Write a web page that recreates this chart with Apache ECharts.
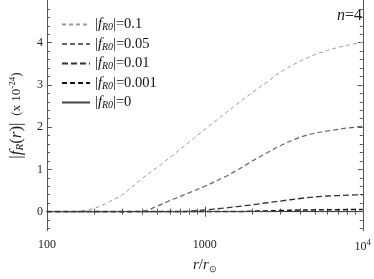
<!DOCTYPE html>
<html><head><meta charset="utf-8">
<script src="https://cdn.jsdelivr.net/npm/echarts@6/dist/echarts.min.js"></script>
<style>html,body{margin:0;padding:0;background:#fff}#c{width:374px;height:279px}</style>
</head><body><div id="c"></div>
<script>
const radius = [100,130,160,200,250,300,400,500,600,700,800,1000,1300,1600,2000,2500,3000,4000,5000,6000,7000,8000,10000];
const f_01   = [0,0,0.01,0.08,0.24,0.40,0.78,1.05,1.28,1.48,1.65,1.95,2.28,2.55,2.82,3.08,3.30,3.56,3.72,3.82,3.89,3.94,4.01];
const f_005  = [0,0,0,0,0,0,0.01,0.13,0.26,0.36,0.45,0.60,0.80,0.98,1.20,1.40,1.56,1.76,1.86,1.91,1.95,1.98,2.02];
const f_001  = [0,0,0,0,0,0,0,0,0,0,0.01,0.04,0.08,0.12,0.16,0.21,0.25,0.31,0.35,0.37,0.38,0.39,0.40];
const f_0001 = [0,0,0,0,0,0,0,0,0,0,0,0,0,0,0.01,0.017,0.025,0.035,0.04,0.043,0.045,0.047,0.05];
const f_0    = [0,0,0,0,0,0,0,0,0,0,0,0,0,0,0,0,0,0,0,0,0,0,0];
const seriesNames = ['0.1','0.05','0.01','0.001','0'];
const seriesValues = [f_01, f_005, f_001, f_0001, f_0];
const yMajor = [0,1,2,3,4];
const yMinor = [-0.4,-0.2,0.2,0.4,0.6,0.8,1.2,1.4,1.6,1.8,2.2,2.4,2.6,2.8,3.2,3.4,3.6,3.8,4.2,4.4,4.6,4.8];
const xMajor = [100,1000,10000];
const xMinor = [200,300,400,500,600,700,800,900,2000,3000,4000,5000,6000,7000,8000,9000];

const styles = [
  {color:'#9a9a9a', width:1, type:[4,3]},
  {color:'#666', width:1.2, type:[5,3]},
  {color:'#333', width:1.3, type:[6,3]},
  {color:'#111', width:1.5, type:[5,3]},
  {color:'#444', width:1, type:'solid'}
];
const serif = 'Liberation Serif';
const axisColor = '#555';

function xAx(pos, values, len, line, showLabel){
  return {
    type:'log', logBase:10, min:100, max:10000, position:pos,
    axisLine:{show:line, lineStyle:{color:axisColor, width:1}},
    axisTick:{show:true, inside:true, length:len, customValues:values, lineStyle:{color:axisColor}},
    minorTick:{show:false},
    axisLabel:{show:showLabel, customValues:values, fontFamily:serif, fontSize:12, color:'#222', margin:8,
      formatter: v => v >= 9999 ? '{n|10}{sup|4}' : '{n|' + Math.round(v) + '}',
      rich:{n:{fontFamily:serif,fontSize:12,color:'#222'}, sup:{fontFamily:serif,fontSize:9,color:'#222',padding:[0,0,8,0]}}},
    splitLine:{show:false},
    name: showLabel ? '{i|r}{t|/}{i|r}{s|⊙}' : '', nameLocation:'middle', nameGap:20,
    nameTextStyle:{rich:{
      i:{fontFamily:serif,fontStyle:'italic',fontSize:15,color:'#222'},
      t:{fontFamily:serif,fontSize:15,color:'#222'},
      s:{fontFamily:serif,fontSize:9,color:'#222',padding:[8,0,0,0]}}}
  };
}
function yAx(pos, values, len, line, showLabel, withName){
  return {
    type:'value', min:-0.45, max:5, position:pos,
    axisLine:{show:line, lineStyle:{color:axisColor, width:1}},
    axisTick:{show:true, inside:true, length:len, customValues:values, lineStyle:{color:axisColor}},
    axisLabel:{show:showLabel, customValues:values, fontFamily:serif, fontSize:12, color:'#222', margin:4},
    splitLine:{show:false},
    name: withName ? '{b||}{bi|f}{sub|R}{b|(}{bi|r}{b|)|}  {s|(x 10}{sup|-24}{s|)}' : '',
    nameLocation:'middle', nameGap:20,
    nameTextStyle:{rich:{
      b:{fontFamily:serif,fontSize:17,color:'#222'},
      bi:{fontFamily:serif,fontSize:17,fontStyle:'italic',color:'#222'},
      sub:{fontFamily:serif,fontSize:11,fontStyle:'italic',color:'#222',padding:[8,0,0,0]},
      s:{fontFamily:serif,fontSize:13,color:'#222'},
      sup:{fontFamily:serif,fontSize:9,color:'#222',padding:[0,0,8,0]}}}
  };
}

const chart = echarts.init(document.getElementById('c'), null, {renderer:'canvas'});
chart.setOption({
  animation:false,
  grid:{left:41, right:9, top:0.5, bottom:41, containLabel:false},
  xAxis:[xAx('bottom', xMajor, 5, true, true), xAx('bottom', xMinor, 3, false, false),
         xAx('top', xMajor, 5, true, false), xAx('top', xMinor, 3, false, false)],
  yAxis:[yAx('left', yMajor, 5, true, true, true), yAx('left', yMinor, 3, false, false, false),
         yAx('right', yMajor, 5, true, false, false), yAx('right', yMinor, 3, false, false, false)],
  legend:{
    orient:'vertical', left:61, top:17, padding:0, itemWidth:28, itemHeight:14, itemGap:4,
    itemStyle:{opacity:0},
    data: seriesNames,
    formatter: n => '{t||}{i|f}{s|R0}{t||=' + n + '}',
    textStyle:{rich:{
      t:{fontFamily:serif,fontSize:14.5,color:'#111'},
      i:{fontFamily:serif,fontSize:14.5,fontStyle:'italic',color:'#111'},
      s:{fontFamily:serif,fontSize:10,fontStyle:'italic',color:'#111',padding:[6,0,0,0]}}}
  },
  graphic:[{type:'text', right:12, top:8, style:{
    text:'{i|n}{t|=4}',
    rich:{i:{fontFamily:serif,fontSize:16,fontStyle:'italic',fill:'#222'},t:{fontFamily:serif,fontSize:16,fill:'#222'}}}}],
  series: seriesNames.map((n,k) => ({
    name:n, type:'line', xAxisIndex:0, yAxisIndex:0, showSymbol:false, symbol:'none',
    smooth:0.35,
    lineStyle:{color:styles[k].color, width:styles[k].width, type:styles[k].type},
    itemStyle:{color:styles[k].color},
    data: radius.map((r,i) => [r, seriesValues[k][i]])
  }))
});
</script></body></html>
